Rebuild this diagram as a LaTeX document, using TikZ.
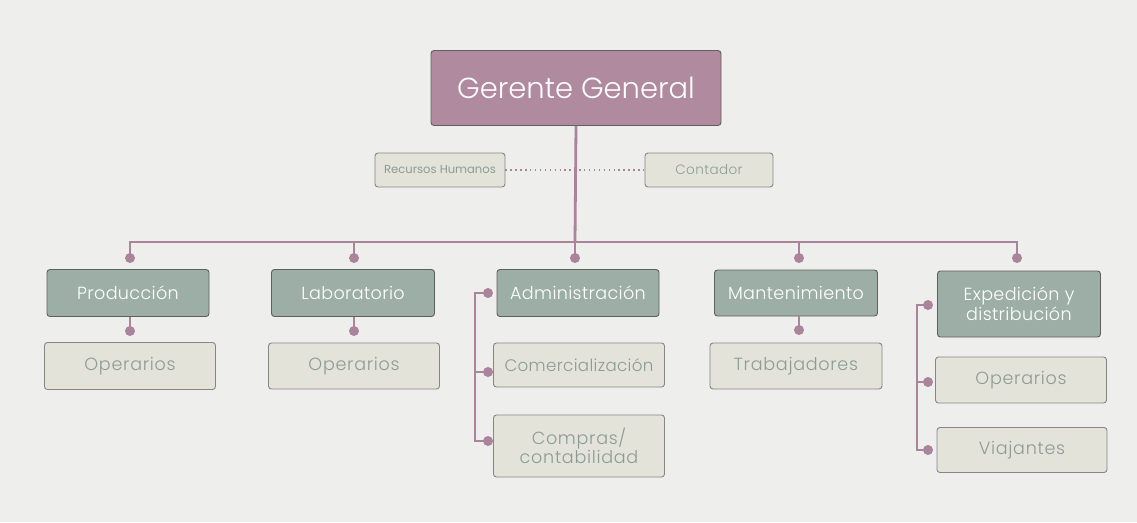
\documentclass[tikz,border=0pt]{standalone}
\usepackage{fontspec}
\setmainfont{Poppins}[UprightFont=* Light]
\newfontfamily\regfont{Poppins}
\newdimen\pxu \pxu=0.02cm
\definecolor{bgc}{HTML}{EEEEEC}
\definecolor{mauve}{HTML}{B08A9F}
\definecolor{conc}{HTML}{A9849A}
\definecolor{sage}{HTML}{9CAEA6}
\definecolor{pale}{HTML}{E3E3DA}
\definecolor{edgec}{HTML}{5E605E}
\definecolor{paleedge}{HTML}{858784}
\definecolor{paletext}{HTML}{8C9C95}
\tikzset{
  box/.style={rectangle, rounded corners=3\pxu, line width=0.9\pxu, inner sep=0pt, align=center},
  topbox/.style={box, fill=mauve, draw=edgec, text=white},
  midbox/.style={box, fill=sage, draw=edgec, text=white, font=\fontsize{10}{8.6}\selectfont\addfontfeatures{LetterSpace=2}},
  lowbox/.style={box, fill=pale, draw=paleedge, text=paletext, font=\fontsize{10}{8.6}\selectfont\addfontfeatures{LetterSpace=4}},
  conn/.style={draw=conc, line width=2.8\pxu},
  dot/.style={fill=conc},
}
\newcommand{\dotat}[1]{\fill[dot] (#1) circle[radius=5\pxu];}
\begin{document}
\begin{tikzpicture}[x=0.02cm,y=-0.02cm]
\fill[bgc] (0,0) rectangle (1137,522);
\useasboundingbox (0,0) rectangle (1137,522);

% nodes
\node[topbox, minimum width=290\pxu, minimum height=75\pxu, font=\fontsize{16.5}{16}\selectfont] (gg) at (576,88) {Gerente General};
\node[lowbox, minimum width=130\pxu, minimum height=34\pxu, font=\regfont\fontsize{6.6}{6}\selectfont] (rh) at (440,170) {Recursos Humanos};
\node[lowbox, minimum width=128\pxu, minimum height=34\pxu, font=\fontsize{7.7}{7}\selectfont\addfontfeatures{LetterSpace=3}] (ct) at (709,170) {Contador};

\node[midbox, minimum width=162\pxu, minimum height=47\pxu] (prod) at (128,293) {Producción};
\node[lowbox, minimum width=171\pxu, minimum height=47\pxu] (op1) at (130,366) {Operarios};
\node[midbox, minimum width=163\pxu, minimum height=47\pxu] (lab) at (353,293) {Laboratorio};
\node[lowbox, minimum width=171\pxu, minimum height=46\pxu] (op2) at (354,366) {Operarios};
\node[midbox, minimum width=162\pxu, minimum height=47\pxu] (adm) at (578,293) {Administración};
\node[lowbox, minimum width=171\pxu, minimum height=44\pxu, font=\fontsize{9.5}{9}\selectfont\addfontfeatures{LetterSpace=2}] (com) at (579,365) {Comercialización};
\node[lowbox, minimum width=171\pxu, minimum height=62\pxu] (cmp) at (579,446) {Compras/\\contabilidad};
\node[midbox, minimum width=163\pxu, minimum height=46\pxu] (man) at (796,293) {Mantenimiento};
\node[lowbox, minimum width=172\pxu, minimum height=46\pxu] (tra) at (796,366) {Trabajadores};
\node[midbox, minimum width=163\pxu, minimum height=66\pxu] (exp) at (1019,304) {Expedición y\\distribución};
\node[lowbox, minimum width=171\pxu, minimum height=46\pxu] (op3) at (1021,380) {Operarios};
\node[lowbox, minimum width=170\pxu, minimum height=45\pxu] (via) at (1022,450) {Viajantes};

% coordinates
\coordinate (bus) at (575,242);
\coordinate (dP) at (130,258);
\coordinate (dL) at (354,258);
\coordinate (dA) at (575,258);
\coordinate (dM) at (799,258);
\coordinate (dE) at (1017,258);
\coordinate (dP2) at (130,331);
\coordinate (dL2) at (354,331);
\coordinate (dM2) at (799,330);
\coordinate (a1) at (488,293);
\coordinate (a2) at (488,372);
\coordinate (a3) at (488,441);
\coordinate (e1) at (928,305);
\coordinate (e2) at (928,382);
\coordinate (e3) at (928,450);

% connectors
\draw[draw=conc, line width=1.4\pxu, dotted] (rh.east) -- (ct.west);
\draw[conn] (gg.south) -- (bus);
\draw[conn] (dP) |- (bus) -| (dE);
\draw[conn] (dL) -- (dL |- bus);
\draw[conn] (dA) -- (bus);
\draw[conn] (dM) -- (dM |- bus);
\draw[conn] (prod.south -| dP2) -- (dP2);
\draw[conn] (lab.south -| dL2) -- (dL2);
\draw[conn] (man.south -| dM2) -- (dM2);
\draw[conn] (a1) -- ++(-13,0) |- (a3);
\draw[conn] (a2) -- ++(-13,0);
\draw[conn] (e1) -- ++(-11,0) |- (e3);
\draw[conn] (e2) -- ++(-11,0);

\foreach \d in {dP,dL,dA,dM,dE,dP2,dL2,dM2,a1,a2,a3,e1,e2,e3} {\dotat{\d}}
\end{tikzpicture}
\end{document}
